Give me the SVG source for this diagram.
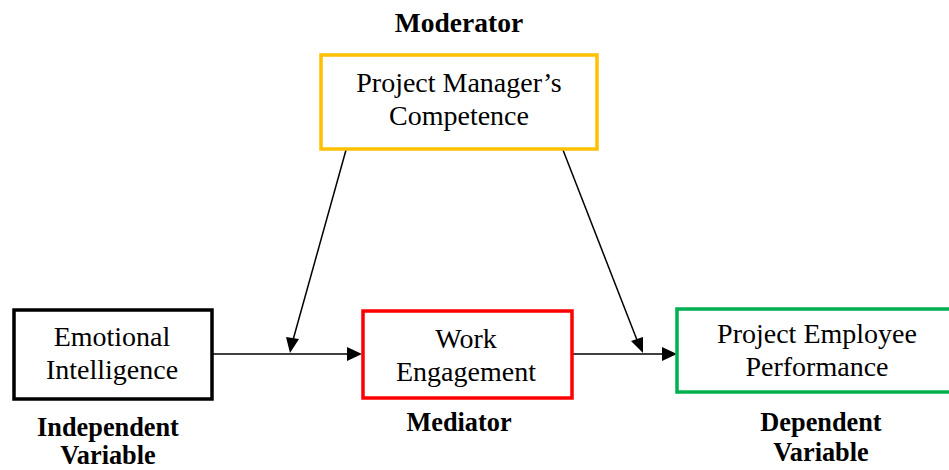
<svg xmlns="http://www.w3.org/2000/svg" width="949" height="470" viewBox="0 0 949 470">
<style>
.box{fill:#fff;stroke-width:3.5}
.t{font-family:"Liberation Serif","Times New Roman",serif;font-size:28px;fill:#000;text-anchor:middle}
.b{font-family:"Liberation Serif","Times New Roman",serif;font-size:26.3px;font-weight:bold;fill:#000;text-anchor:middle}
.ln{stroke:#000;stroke-width:1.5}
</style>
<rect width="949" height="470" fill="#fff"/>
<g id="connectors">
<line class="ln" x1="212" y1="354" x2="347" y2="354"/>
<polygon points="347,347 362,354 347,361" fill="#000"/>
<line class="ln" x1="572" y1="354" x2="663" y2="354"/>
<polygon points="662,347 677,354 662,361" fill="#000"/>
<line class="ln" x1="346" y1="150" x2="293" y2="340"/>
<polygon points="286,337 290,353 299,339" fill="#000"/>
<line class="ln" x1="563" y1="150" x2="637" y2="340"/>
<polygon points="631,341 643,353 643,337" fill="#000"/>
</g>
<g id="moderator">
<text class="b" x="459" y="32" style="font-size:27.5px">Moderator</text>
<rect class="box" x="321" y="55" width="276" height="94" stroke="#FFC000"/>
<text class="t" x="459" y="92">Project Manager’s</text>
<text class="t" x="459" y="125">Competence</text>
</g>
<g id="independent">
<rect class="box" x="14" y="310" width="198" height="89" stroke="#000"/>
<text class="t" x="112" y="346">Emotional</text>
<text class="t" x="112" y="379">Intelligence</text>
<text class="b" x="108" y="436">Independent</text>
<text class="b" x="108" y="464">Variable</text>
</g>
<g id="mediator">
<rect class="box" x="363" y="311" width="209" height="87" stroke="#FF0000"/>
<text class="t" x="466" y="348">Work</text>
<text class="t" x="466" y="381">Engagement</text>
<text class="b" x="459" y="431">Mediator</text>
</g>
<g id="dependent">
<rect class="box" x="677" y="309" width="275" height="83" stroke="#00B050"/>
<text class="t" x="817" y="343">Project Employee</text>
<text class="t" x="817" y="376">Performance</text>
<text class="b" x="821" y="431">Dependent</text>
<text class="b" x="821" y="461">Variable</text>
</g>
</svg>
